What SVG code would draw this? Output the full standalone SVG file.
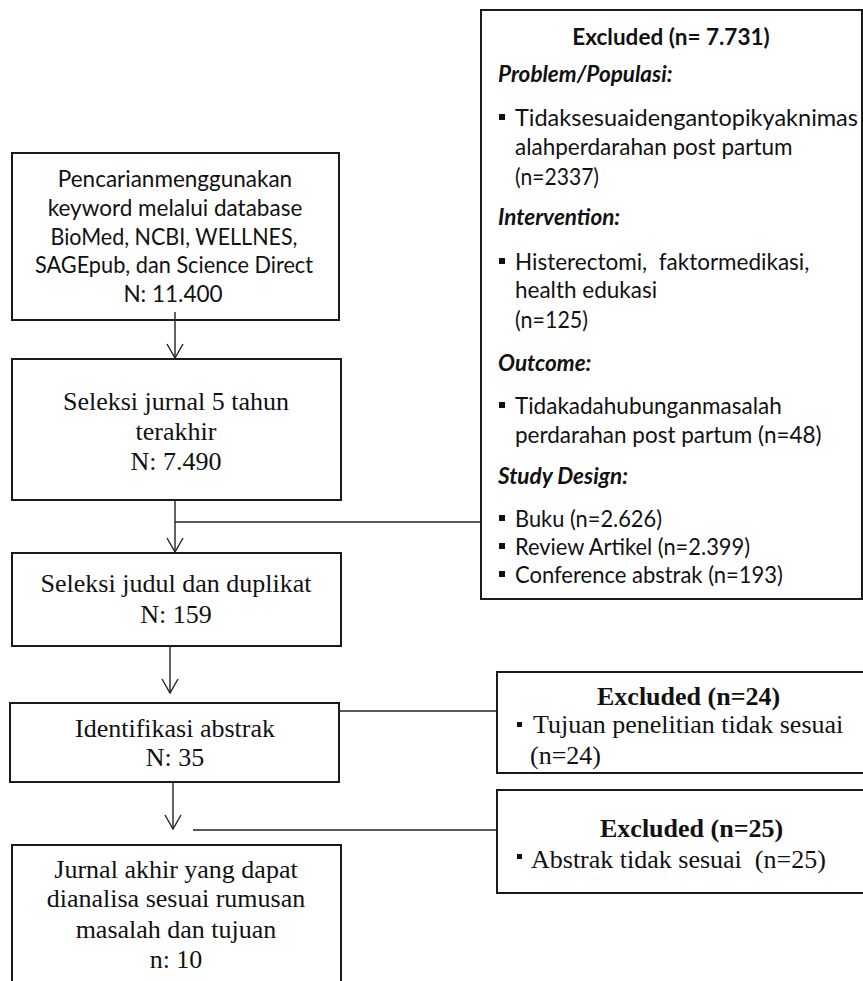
<svg xmlns="http://www.w3.org/2000/svg" width="863" height="981" viewBox="0 0 863 981">
<defs>
<style>
.box{fill:#fff;stroke:#1a1a1a;stroke-width:2}
.cal{font-family:Lato,"Open Sans",sans-serif;font-size:22.5px;fill:#111}
.tnr{font-family:"Liberation Serif","Times New Roman",serif;font-size:26px;fill:#111}
.c{text-anchor:middle}
.b{font-weight:bold}
.bi{font-weight:bold;font-style:italic}
.bul{fill:#111}
.conn{stroke:#222;stroke-width:1.4;fill:none}
</style>
<marker id="arr" viewBox="0 0 16 18" refX="15" refY="9" markerWidth="16" markerHeight="18" markerUnits="userSpaceOnUse" orient="auto">
<path d="M1,1 L15,9 L1,17" fill="none" stroke="#222" stroke-width="1.4"/>
</marker>
</defs>
<rect width="863" height="981" fill="#fff"/>

<g id="n1">
<rect class="box" x="12" y="153" width="327" height="167"/>
<text class="cal c" x="175" y="187">Pencarianmenggunakan</text>
<text class="cal c" x="175" y="216">keyword melalui database</text>
<text class="cal c" x="174" y="245" textLength="247" lengthAdjust="spacingAndGlyphs">BioMed, NCBI, WELLNES,</text>
<text class="cal c" x="174" y="273" textLength="278" lengthAdjust="spacingAndGlyphs">SAGEpub, dan Science Direct</text>
<text class="cal c" x="173" y="302">N: 11.400</text>
</g>

<g id="n2">
<rect class="box" x="12" y="359" width="329" height="141"/>
<text class="tnr c" x="176" y="410">Seleksi jurnal 5 tahun</text>
<text class="tnr c" x="176" y="440">terakhir</text>
<text class="tnr c" x="176" y="470">N: 7.490</text>
</g>

<g id="n3">
<rect class="box" x="12" y="553" width="329" height="93"/>
<text class="tnr c" x="176" y="592">Seleksi judul dan duplikat</text>
<text class="tnr c" x="176" y="623">N: 159</text>
</g>

<g id="n4">
<rect class="box" x="10" y="703" width="329" height="79"/>
<text class="tnr c" x="175" y="737">Identifikasi abstrak</text>
<text class="tnr c" x="175" y="766">N: 35</text>
</g>

<g id="n5">
<rect class="box" x="12" y="845" width="329" height="150"/>
<text class="tnr c" x="176" y="878">Jurnal akhir yang dapat</text>
<text class="tnr c" x="176" y="907">dianalisa sesuai rumusan</text>
<text class="tnr c" x="176" y="938">masalah dan tujuan</text>
<text class="tnr c" x="176" y="968">n: 10</text>
</g>

<g id="ex1">
<rect class="box" x="481" y="10" width="381" height="589"/>
<text class="cal c b" x="671" y="45">Excluded (n= 7.731)</text>
<text class="cal bi" x="498" y="82">Problem/Populasi:</text>
<rect class="bul" x="499" y="114" width="6" height="6"/>
<text class="cal" x="515" y="126" textLength="343" lengthAdjust="spacingAndGlyphs">Tidaksesuaidengantopikyaknimas</text>
<text class="cal" x="515" y="155">alahperdarahan post partum</text>
<text class="cal" x="515" y="185" textLength="84" lengthAdjust="spacingAndGlyphs">(n=2337)</text>
<text class="cal bi" x="498" y="225">Intervention:</text>
<rect class="bul" x="499" y="258" width="6" height="6"/>
<text class="cal" x="515" y="270" xml:space="preserve">Histerectomi,  faktormedikasi,</text>
<text class="cal" x="515" y="298">health edukasi</text>
<text class="cal" x="515" y="328" textLength="73" lengthAdjust="spacingAndGlyphs">(n=125)</text>
<text class="cal bi" x="498" y="371">Outcome:</text>
<rect class="bul" x="499" y="402" width="6" height="6"/>
<text class="cal" x="515" y="414">Tidakadahubunganmasalah</text>
<text class="cal" x="515" y="443">perdarahan post partum (n=48)</text>
<text class="cal bi" x="498" y="484">Study Design:</text>
<rect class="bul" x="499" y="515" width="6" height="6"/>
<text class="cal" x="515" y="527" textLength="147" lengthAdjust="spacingAndGlyphs">Buku (n=2.626)</text>
<rect class="bul" x="499" y="543" width="6" height="6"/>
<text class="cal" x="515" y="555" textLength="235" lengthAdjust="spacingAndGlyphs">Review Artikel (n=2.399)</text>
<rect class="bul" x="499" y="571" width="6" height="6"/>
<text class="cal" x="515" y="583" textLength="268" lengthAdjust="spacingAndGlyphs">Conference abstrak (n=193)</text>
</g>

<g id="ex2">
<rect class="box" x="497" y="672" width="380" height="101"/>
<text class="tnr b" x="597" y="705">Excluded (n=24)</text>
<rect class="bul" x="517" y="722" width="5" height="5"/>
<text class="tnr" x="533" y="733">Tujuan penelitian tidak sesuai</text>
<text class="tnr" x="530" y="764">(n=24)</text>
</g>

<g id="ex3">
<rect class="box" x="497" y="790" width="380" height="103"/>
<text class="tnr b" x="600" y="837">Excluded (n=25)</text>
<rect class="bul" x="517" y="854" width="5" height="5"/>
<text class="tnr" x="531" y="868" xml:space="preserve">Abstrak tidak sesuai  (n=25)</text>
</g>

<g id="connectors">
<path class="conn" d="M175,312 V358" marker-end="url(#arr)"/>
<path class="conn" d="M175,500 V552" marker-end="url(#arr)"/>
<path class="conn" d="M175,522 H481"/>
<path class="conn" d="M170,646 V693" marker-end="url(#arr)"/>
<path class="conn" d="M339,711 H497"/>
<path class="conn" d="M173,782 V829" marker-end="url(#arr)"/>
<path class="conn" d="M193,830 H497"/>
</g>
</svg>
